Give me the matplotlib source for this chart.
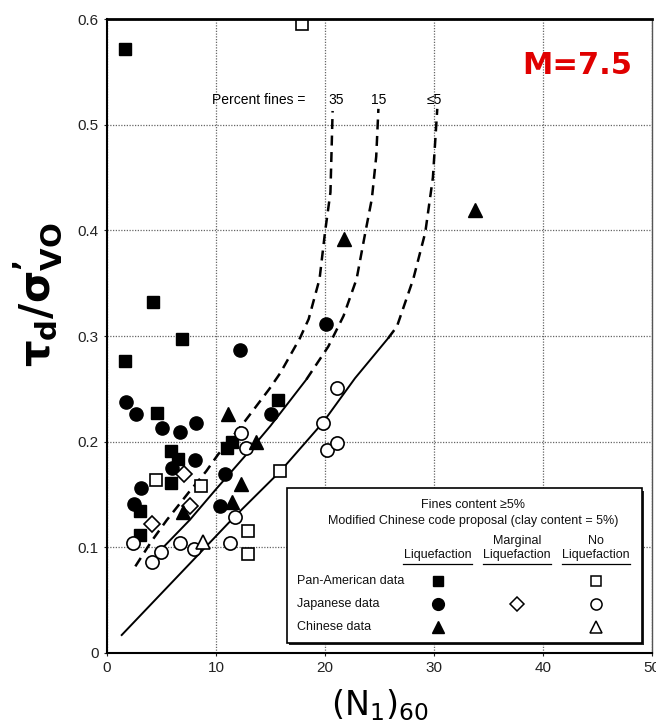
import matplotlib
matplotlib.use("Agg")
import matplotlib.pyplot as plt
from matplotlib.patches import Rectangle

plt.rcParams["font.family"] = ["Liberation Sans", "DejaVu Sans"]
plt.rcParams["mathtext.fontset"] = "custom"
plt.rcParams["mathtext.rm"] = "DejaVu Sans"
plt.rcParams["mathtext.bf"] = "DejaVu Sans:bold"
plt.rcParams["mathtext.it"] = "DejaVu Sans:italic"

# Pan-American data
pa_liq_x = [1.65, 4.25, 6.85, 1.68, 4.6, 5.9, 6.55, 5.9, 3.0, 3.0, 11.0, 11.5, 15.7]
pa_liq_y = [0.572, 0.332, 0.297, 0.276, 0.227, 0.191, 0.184, 0.161, 0.134, 0.112, 0.194, 0.200, 0.239]
pa_no_x = [17.9, 4.5, 8.6, 15.9, 12.9, 12.9]
pa_no_y = [0.595, 0.164, 0.158, 0.172, 0.115, 0.094]

# Japanese data
jp_liq_x = [1.74, 2.7, 5.05, 6.7, 8.15, 6.0, 8.1, 3.1, 2.45, 10.8, 10.35, 12.2, 20.1, 15.05]
jp_liq_y = [0.238, 0.226, 0.213, 0.209, 0.218, 0.175, 0.183, 0.156, 0.141, 0.169, 0.139, 0.287, 0.311, 0.226]
jp_marg_x = [7.05, 7.65, 4.1]
jp_marg_y = [0.169, 0.139, 0.122]
jp_no_x = [2.4, 4.1, 5.0, 6.7, 8.0, 11.3, 11.7, 12.3, 12.75, 19.8, 20.2, 21.1, 21.1]
jp_no_y = [0.104, 0.086, 0.096, 0.104, 0.098, 0.104, 0.129, 0.208, 0.194, 0.218, 0.192, 0.199, 0.251]

# Chinese data
cn_liq_x = [11.1, 13.7, 12.3, 11.45, 7.0, 21.7, 33.8]
cn_liq_y = [0.226, 0.200, 0.160, 0.143, 0.133, 0.392, 0.419]
cn_no_x = [8.85]
cn_no_y = [0.105]

# boundary curves (percent fines)
c35_x = [2.6, 4.1, 5.5, 7.5, 9.1, 10.2, 12.7, 14.9, 15.9, 17.7, 18.5, 19.5, 20.0, 20.5, 20.7]
c35_y = [0.082, 0.106, 0.126, 0.152, 0.172, 0.188, 0.220, 0.250, 0.265, 0.298, 0.316, 0.354, 0.398, 0.436, 0.513]

c15_solid_x = [4.5, 7.6, 10.0, 12.8, 15.0, 18.3]
c15_solid_y = [0.093, 0.126, 0.155, 0.188, 0.215, 0.259]
c15_dash_x = [18.3, 20.3, 21.7, 22.9, 23.7, 24.3, 24.7, 24.9]
c15_dash_y = [0.259, 0.290, 0.319, 0.354, 0.398, 0.430, 0.470, 0.515]

c5_solid_x = [1.35, 11.7, 15.9, 19.8, 22.75, 25.8]
c5_solid_y = [0.017, 0.129, 0.172, 0.218, 0.260, 0.298]
c5_dash_x = [25.8, 26.6, 28.1, 29.2, 29.9, 30.3]
c5_dash_y = [0.298, 0.309, 0.354, 0.398, 0.450, 0.515]

curve_labels = ["35", "15", "\u22645"]

fig = plt.figure(figsize=(6.56, 7.27), dpi=100)
ax = fig.add_axes([0.1631, 0.1018, 0.8308, 0.872])

ax.set_xlim(0, 50)
ax.set_ylim(0, 0.6)
ax.set_xticks([0, 10, 20, 30, 40, 50])
ax.set_yticks([0, 0.1, 0.2, 0.3, 0.4, 0.5, 0.6])
ax.set_yticklabels(["0", "0.1", "0.2", "0.3", "0.4", "0.5", "0.6"])
ax.tick_params(labelsize=11, length=2, width=0.8, pad=4, colors="#222222")
ax.grid(True, color="#666666", linestyle=(0, (1, 1.2)), linewidth=0.9)
ax.set_axisbelow(True)
for s in ["left", "bottom"]:
    ax.spines[s].set_linewidth(1.5)
ax.spines["top"].set_linewidth(2.0)
ax.spines["right"].set_linewidth(1.0)
ax.spines["right"].set_color("#555555")

# curves
dash = (0, (4, 2.6))
ax.plot(c35_x, c35_y, color="black", lw=1.8, linestyle=dash)
ax.plot(c15_solid_x, c15_solid_y, color="black", lw=1.4)
ax.plot(c15_dash_x, c15_dash_y, color="black", lw=1.8, linestyle=dash)
ax.plot(c5_solid_x, c5_solid_y, color="black", lw=1.4)
ax.plot(c5_dash_x, c5_dash_y, color="black", lw=1.8, linestyle=dash)

ax.text(9.6, 0.523, "Percent fines =", fontsize=10, va="center", ha="left")
for lx, lab in zip([c35_x[-1] + 0.35, c15_dash_x[-1], c5_dash_x[-1] - 0.3], curve_labels):
    ax.text(lx, 0.523, lab, fontsize=10, va="center", ha="center")

# data points
open_kw = dict(mfc="white", mec="black", mew=1.2, linestyle="none")
fill_kw = dict(color="black", linestyle="none")
ax.plot(pa_liq_x, pa_liq_y, "s", ms=8, **fill_kw)
ax.plot(pa_no_x, pa_no_y, "s", ms=8.5, **open_kw)
ax.plot(jp_liq_x, jp_liq_y, "o", ms=9.5, **fill_kw)
ax.plot(jp_marg_x, jp_marg_y, "D", ms=8, **open_kw)
ax.plot(jp_no_x, jp_no_y, "o", ms=9.5, **open_kw)
ax.plot(cn_liq_x, cn_liq_y, "^", ms=9.5, **fill_kw)
ax.plot(cn_no_x, cn_no_y, "^", ms=9.5, **open_kw)

# legend box with shadow
shadow = Rectangle((0.334, 0.0123), 0.651, 0.244, transform=ax.transAxes,
                   facecolor="#222222", edgecolor="none", zorder=5)
box = Rectangle((0.33, 0.0153), 0.651, 0.245, transform=ax.transAxes,
                facecolor="white", edgecolor="black", lw=1.2, zorder=6)
ax.add_patch(shadow)
ax.add_patch(box)

tk = dict(transform=ax.transAxes, fontsize=9, zorder=7, color="#111111")
ax.text(0.672, 0.233, "Fines content \u22655%", ha="center", va="center", **tk)
ax.text(0.672, 0.208, "Modified Chinese code proposal (clay content = 5%)", ha="center", va="center", **tk)
col_x = [0.607, 0.752, 0.897]
ax.text(col_x[1], 0.177, "Marginal", ha="center", va="center", **tk)
ax.text(col_x[2], 0.177, "No", ha="center", va="center", **tk)
for cx in col_x:
    ax.text(cx, 0.154, "Liquefaction", ha="center", va="center", **tk)
    ax.plot([cx - 0.063, cx + 0.063], [0.140, 0.140], color="black", lw=0.9,
            transform=ax.transAxes, zorder=7)

row_y = [0.114, 0.077, 0.041]
for ry, lab in zip(row_y, ["Pan-American data", "Japanese data", "Chinese data"]):
    ax.text(0.348, ry, lab, ha="left", va="center", **tk)

lk = dict(transform=ax.transAxes, zorder=8, linestyle="none", clip_on=False)
ax.plot(col_x[0], row_y[0], "s", ms=7.5, color="black", **lk)
ax.plot(col_x[2], row_y[0], "s", ms=7.5, mfc="white", mec="black", mew=1.1, **lk)
ax.plot(col_x[0], row_y[1], "o", ms=8.5, color="black", **lk)
ax.plot(col_x[1], row_y[1], "D", ms=7, mfc="white", mec="black", mew=1.1, **lk)
ax.plot(col_x[2], row_y[1], "o", ms=8, mfc="white", mec="black", mew=1.1, **lk)
ax.plot(col_x[0], row_y[2], "^", ms=8.5, color="black", **lk)
ax.plot(col_x[2], row_y[2], "^", ms=8.5, mfc="white", mec="black", mew=1.1, **lk)

# labels
ax.text(-0.128, 0.565, "$\\mathbf{\\tau_d/\\sigma^{\u2019}_{VO}}$", transform=ax.transAxes,
        rotation=90, ha="center", va="center", fontsize=30)
ax.text(0.501, -0.082, r"$\mathrm{(N_1)_{60}}$", transform=ax.transAxes,
        ha="center", va="center", fontsize=24)
ax.text(0.862, 0.927, "M=7.5", transform=ax.transAxes, ha="center", va="center",
        fontsize=22, fontweight="bold", color="#e00000", family="DejaVu Sans")

fig.savefig("out.png", dpi=100)
